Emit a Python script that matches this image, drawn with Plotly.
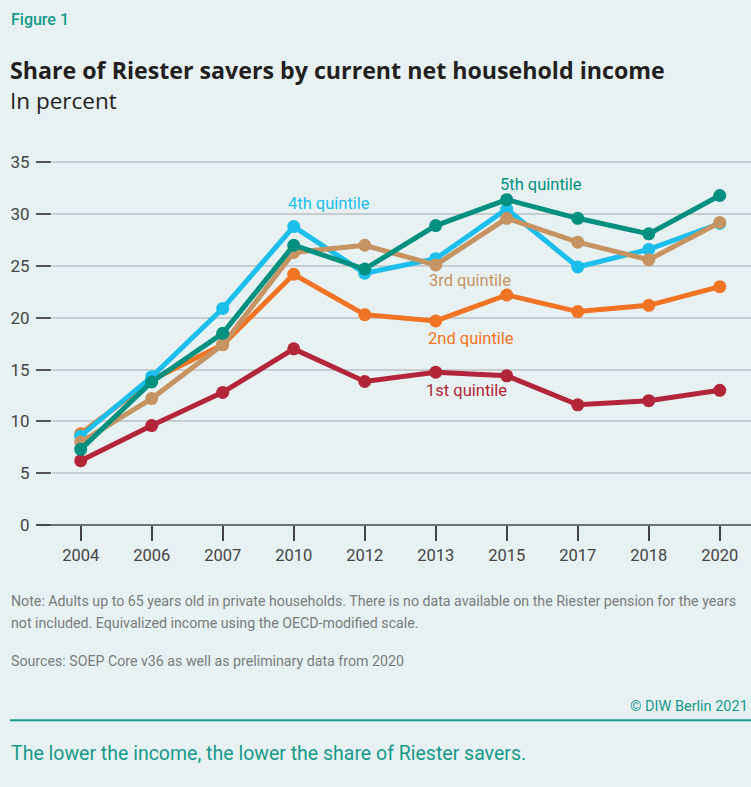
import plotly.graph_objects as go

years = ["2004", "2006", "2007", "2010", "2012", "2013", "2015", "2017", "2018", "2020"]
q1 = [6.2, 9.6, 12.8, 17.0, 13.85, 14.75, 14.4, 11.6, 12.0, 13.0]
q2 = [8.8, 14.0, 17.4, 24.2, 20.3, 19.7, 22.2, 20.6, 21.2, 23.0]
q3 = [8.0, 12.2, 17.4, 26.3, 27.0, 25.1, 29.6, 27.3, 25.6, 29.2]
q4 = [8.6, 14.3, 20.9, 28.8, 24.3, 25.7, 30.5, 24.9, 26.6, 29.1]
q5 = [7.3, 13.8, 18.5, 27.0, 24.7, 28.9, 31.4, 29.6, 28.1, 31.8]
yticks = [0, 5, 10, 15, 20, 25, 30, 35]

C1, C2, C3, C4, C5 = "#b3263a", "#f07424", "#c69463", "#1cbfec", "#00907f"
TEAL_TXT = "#16998a"
BG = "#e8f1f2"
FONT = "Roboto"
FONT2 = "Open Sans"

W, H = 751, 787
L, R, T, B = 52, 751, 152.4, 525

def px(x):
    return (x - L) / (R - L)

def py(y):
    return (B - y) / (B - T)

fig = go.Figure()
for name, vals, col in [("1st quintile", q1, C1), ("2nd quintile", q2, C2),
                        ("4th quintile", q4, C4), ("3rd quintile", q3, C3),
                        ("5th quintile", q5, C5)]:
    fig.add_trace(go.Scatter(x=years, y=vals, mode="lines+markers", name=name,
                             line=dict(color=col, width=5),
                             marker=dict(color=col, size=13),
                             showlegend=False, hoverinfo="skip"))

labels = [("4th quintile", 3.5, 31.0, C4), ("5th quintile", 6.48, 32.9, C5),
          ("3rd quintile", 5.48, 23.6, C3), ("2nd quintile", 5.5, 18.0, C2),
          ("1st quintile", 5.44, 12.95, C1)]
for t, xi, yv, col in labels:
    fig.add_annotation(x=xi, y=yv, xref="x", yref="y", text=t, showarrow=False,
                       font=dict(family=FONT, size=16.5, color=col),
                       xanchor="center", yanchor="middle")

def txt(text, x, y, size, color, xanchor="left", weight="normal", family=FONT):
    fig.add_annotation(x=px(x), y=py(y), xref="paper", yref="paper", text=text,
                       showarrow=False, xanchor=xanchor, yanchor="middle",
                       font=dict(family=family, size=size, color=color, weight=weight))

txt("Figure 1", 9, 20, 16, TEAL_TXT, weight=500)
txt("Share of Riester savers by current net household income", 8, 70, 23.2, "#231f20", weight="bold", family=FONT2)
txt("In percent", 8, 101, 22.5, "#231f20", family=FONT2)
txt("Note: Adults up to 65 years old in private households. There is no data available on the Riester pension for the years", 9, 601, 14.2, "#7b7b7b")
txt("not included. Equivalized income using the OECD-modified scale.", 9, 623, 14.2, "#7b7b7b")
txt("Sources: SOEP Core v36 as well as preliminary data from 2020", 9, 661, 14.2, "#7b7b7b")
txt("© DIW Berlin 2021", 750, 706, 14.5, TEAL_TXT, xanchor="right")
txt("The lower the income, the lower the share of Riester savers.", 9, 753, 19.5, TEAL_TXT)

fig.add_shape(type="line", xref="paper", yref="paper", x0=px(10), x1=px(751),
              y0=py(720), y1=py(720), line=dict(color=TEAL_TXT, width=2))
fig.add_shape(type="line", xref="paper", yref="paper", x0=px(37), x1=px(751),
              y0=0, y1=0, line=dict(color="#444444", width=1.5), layer="above")

fig.update_layout(
    width=W, height=H,
    margin=dict(l=L, r=W - R, t=T, b=H - B, pad=0),
    paper_bgcolor=BG, plot_bgcolor=BG,
    font=dict(family=FONT, color="#444444"),
    xaxis=dict(type="category", range=[-0.404, 9.44], showgrid=False,
               ticks="outside", ticklen=15, tickwidth=1.5, tickcolor="#444444",
               showline=False, zeroline=False,
               tickfont=dict(family=FONT, size=16.5, color="#444444")),
    yaxis=dict(range=[0, 36], tickvals=yticks, showgrid=True,
               gridcolor="#c6cccf", gridwidth=1.5, zeroline=False,
               ticks="outside", ticklen=15, tickwidth=1.5, tickcolor="#555555",
               showline=False, ticklabelstandoff=3,
               tickfont=dict(family=FONT, size=17, color="#444444")),
)

fig.write_html("out.html", config={"displayModeBar": False},
               post_script="document.body.style.margin='0';document.body.style.background='%s';document.body.style.overflow='hidden';" % BG)
